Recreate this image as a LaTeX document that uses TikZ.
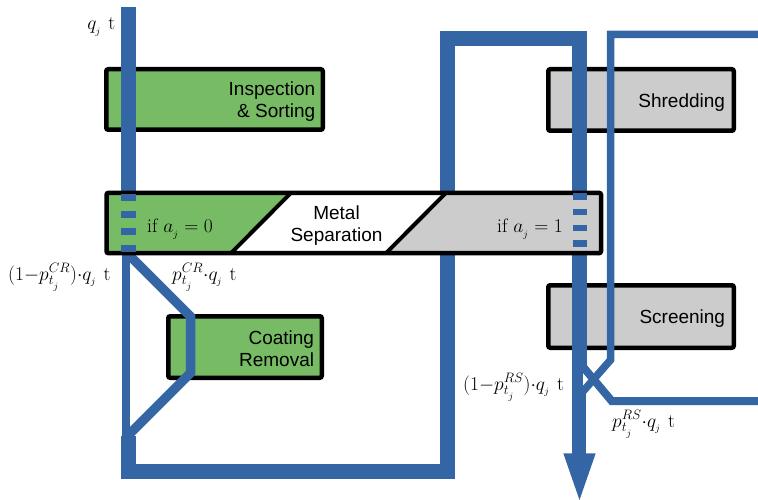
\documentclass[tikz,border=0pt]{standalone}
\usepackage{fix-cm}
\usepackage{fontspec}
\newfontfamily\boxfont{Liberation Sans}
\definecolor{flowblue}{HTML}{3465A4}
\definecolor{boxgreen}{HTML}{77BC65}
\definecolor{boxgray}{HTML}{CCCCCC}
\tikzset{
  procbox/.style={draw=black, line width=4.5pt, rounded corners=2pt, inner sep=0pt},
  boxtext/.style={font=\boxfont\fontsize{19}{22}\selectfont, align=right, inner sep=0pt, anchor=east},
  bigflow/.style={draw=flowblue, line width=15pt},
  thinflow/.style={draw=flowblue, line width=8pt},
  mathlabel/.style={font=\fontsize{19.5}{22}\selectfont, inner sep=0pt},
  sepline/.style={draw=black, line width=4pt},
}
\begin{document}
\begin{tikzpicture}[x=1pt,y=-1pt]
\useasboundingbox (0,0) rectangle (758,500);

% ---------- process boxes (below the flows) ----------
\node[procbox, fill=boxgreen, minimum width=216.5pt, minimum height=60.5pt] (insp) at (214.5,99.5) {};
\node[boxtext] (insptext) at ([xshift=-9.5pt,yshift=-2.5pt]insp.east) {Inspection\\\& Sorting};
\node[procbox, fill=boxgray, minimum width=185.5pt, minimum height=61.5pt] (shred) at (641,100) {};
\node[boxtext] (shredtext) at ([xshift=-10.75pt,yshift=-2.5pt]shred.east) {Shredding};
\node[procbox, fill=boxgray, minimum width=185.5pt, minimum height=62.5pt] (screen) at (641,316.5) {};
\node[boxtext] (screentext) at ([xshift=-10.75pt,yshift=-2pt]screen.east) {Screening};
\node[procbox, fill=boxgreen, minimum width=153.5pt, minimum height=61.5pt] (coat) at (245,347) {};
\node[boxtext] (coattext) at ([xshift=-9.75pt,yshift=-2pt]coat.east) {Coating\\Removal};

% ---------- flow coordinates ----------
\coordinate (inTop) at (128.5,7.3);
\coordinate (inSep) at (128.5,253);
\coordinate (remTop) at (125.8,250);
\coordinate (remBot) at (125.8,437);
\coordinate (cr0) at (127,253);
\coordinate (cr1) at (190.5,316.5);
\coordinate (cr2) at (190.5,373);
\coordinate (cr3) at (128,435.5);
\coordinate (lpA) at (128.5,436);
\coordinate (lpB) at (128.5,471);
\coordinate (lpC) at (447,471);
\coordinate (lpD) at (447,38.5);
\coordinate (lpE) at (579.5,38.5);
\coordinate (lpF) at (579.5,366);
\coordinate (rrTop) at (577.5,365);
\coordinate (rrBot) at (577.5,396);
\coordinate (rsA) at (577.3,360);
\coordinate (rsB) at (611.7,401);
\coordinate (rsC) at (758,401);
\coordinate (tnA) at (758,34.5);
\coordinate (tnB) at (610.5,34.5);
\coordinate (tnC) at (610.5,360);
\coordinate (tnD) at (579,396);
\coordinate (arTop) at (579.2,394);
\coordinate (arBot) at (579.2,454);
\coordinate (ahL) at (563.3,453.3);
\coordinate (ahR) at (595.7,453.3);
\coordinate (ahT) at (579.5,500);

% ---------- flows ----------
\draw[flowblue, line width=14.5pt] (inTop) -- (inSep);
\draw[flowblue, line width=8.5pt] (remTop) -- (remBot);
\draw[flowblue, line width=9.5pt] (cr0) -- (cr1) -- (cr2) -- (cr3);
\draw[bigflow] (lpA) -- (lpB) -- (lpC) -- (lpD) -- (lpE) -- (lpF);
\draw[flowblue, line width=11pt] (rrTop) -- (rrBot);
\draw[thinflow] (rsA) -- (rsB) -- (rsC);
\draw[flowblue, line width=7.5pt] (tnA) -- (tnB) -- (tnC) -- (tnD);
\draw[flowblue, line width=14.5pt] (arTop) -- (arBot);
\fill[flowblue] (ahL) -- (ahR) -- (ahT) -- cycle;

% ---------- metal separation ----------
\coordinate (msNW) at (106.5,192.8);
\coordinate (msSW) at (106.5,253.2);
\coordinate (msNE) at (601,192.8);
\coordinate (msSE) at (601,253.2);
\coordinate (gTop) at (291,192.8);
\coordinate (gBot) at (231,253.2);
\coordinate (yTop) at (446,192.8);
\coordinate (yBot) at (386,253.2);
\fill[white] (msNW) rectangle (msSE);
\fill[boxgreen] (msNW) -- (gTop) -- (gBot) -- (msSW) -- cycle;
\fill[boxgray] (yTop) -- (msNE) -- (msSE) -- (yBot) -- cycle;
\draw[sepline] (gTop) -- (gBot);
\draw[sepline] (yTop) -- (yBot);
\node[procbox, minimum width=494.5pt, minimum height=60.4pt] (msep) at (353.75,223) {};
\node[font=\boxfont\fontsize{19}{22}\selectfont, align=center, inner sep=0pt]
      (mstext) at (336.5,226) {Metal\\Separation};

% dashed passes through the separation box
\coordinate (dlA) at (128.5,193.5);
\coordinate (dlB) at (128.5,253);
\coordinate (drA) at (579.7,193.3);
\coordinate (drB) at (579.7,247);
\draw[flowblue, line width=14.5pt, dash pattern=on 7.3pt off 9.9pt] (dlA) -- (dlB);
\draw[flowblue, line width=14pt, dash pattern=on 6.2pt off 9.5pt] (drA) -- (drB);

% ---------- labels ----------
\node[mathlabel, anchor=base west] (if0) at (147,233) {$\mathrm{if}\ a_{_j}=0$};
\node[mathlabel, anchor=base east] (if1) at (563,233) {$\mathrm{if}\ a_{_j}=1$};
\node[mathlabel, anchor=base east] (lq) at (115.5,29.3) {$q_{_j}$\hspace{7pt}t};
\node[mathlabel, anchor=base west] (lcr1) at (8,280) {$\bigl(1{-}p^{CR}_{t_{_j}}\bigr){\cdot}q_{_j}$\hspace{7pt}t};
\node[mathlabel, anchor=base west] (lcr2) at (172,280) {$p^{CR}_{t_{_j}}{\cdot}q_{_j}$\hspace{7pt}t};
\node[mathlabel, anchor=base west] (lrs1) at (463,390) {$\bigl(1{-}p^{RS}_{t_{_j}}\bigr){\cdot}q_{_j}$\hspace{7pt}t};
\node[mathlabel, anchor=base west] (lrs2) at (612,427) {$p^{RS}_{t_{_j}}{\cdot}q_{_j}$\hspace{7pt}t};
\end{tikzpicture}
\end{document}
